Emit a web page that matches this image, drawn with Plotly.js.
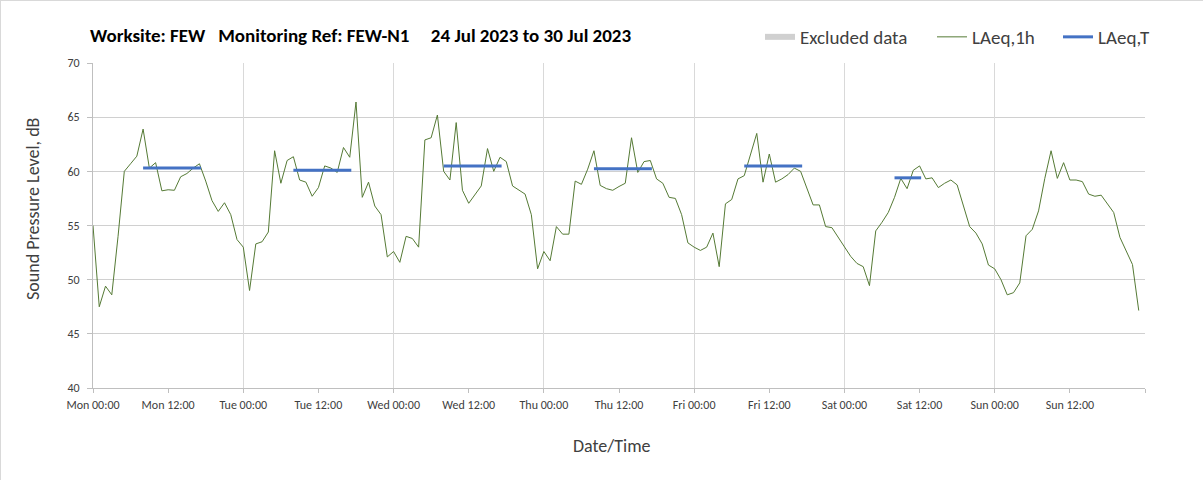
<!DOCTYPE html>
<html>
<head>
<meta charset="utf-8">
<script src="https://cdn.plot.ly/plotly-3.0.1.min.js"></script>
<style>
  html, body { margin: 0; padding: 0; background: #ffffff; }
  #chart { width: 1203px; height: 480px; box-sizing: border-box; border: 1px solid #d9d9d9; }
</style>
</head>
<body>
<div id="chart"></div>
<script>
// ---- Data (hourly LAeq,1h, dB) ----
const dayNames = ['Mon', 'Tue', 'Wed', 'Thu', 'Fri', 'Sat', 'Sun'];
const monLAeq1h = [55.0, 47.5, 49.4, 48.6, 54.0, 60.0, 60.7, 61.4, 63.9, 60.3, 60.8, 58.2, 58.3, 58.25, 59.5, 59.8, 60.3, 60.7, 59.1, 57.3, 56.3, 57.1, 56.0, 53.7];
const tueLAeq1h = [53.0, 49.0, 53.3, 53.5, 54.4, 61.9, 58.9, 61.0, 61.35, 59.2, 59.0, 57.7, 58.5, 60.5, 60.3, 59.9, 62.2, 61.3, 66.4, 57.6, 59.0, 56.8, 56.0, 52.1];
const wedLAeq1h = [52.6, 51.6, 54.0, 53.8, 53.0, 62.9, 63.1, 65.2, 60.0, 59.2, 64.5, 58.25, 57.05, 57.9, 58.65, 62.1, 60.0, 61.3, 60.9, 58.65, 58.3, 57.9, 56.0, 51.0];
const thuLAeq1h = [52.6, 51.75, 54.9, 54.2, 54.2, 59.1, 58.8, 60.2, 61.9, 58.7, 58.4, 58.25, 58.6, 58.9, 63.1, 59.9, 60.9, 61.0, 59.3, 58.9, 57.6, 57.5, 56.0, 53.4];
const friLAeq1h = [53.0, 52.7, 53.0, 54.3, 51.2, 57.0, 57.4, 59.3, 59.6, 61.5, 63.5, 59.0, 61.6, 59.0, 59.3, 59.7, 60.3, 60.0, 58.5, 56.9, 56.9, 54.9, 54.8, 53.9];
const satLAeq1h = [53.0, 52.15, 51.5, 51.2, 49.45, 54.5, 55.3, 56.2, 57.6, 59.35, 58.4, 60.1, 60.5, 59.3, 59.4, 58.5, 58.9, 59.2, 58.75, 56.8, 54.9, 54.3, 53.3, 51.35];
const sunLAeq1h = [51.0, 50.0, 48.6, 48.8, 49.7, 54.05, 54.65, 56.35, 59.35, 61.9, 59.35, 60.8, 59.2, 59.2, 59.05, 57.9, 57.7, 57.8, 57.0, 56.2, 53.9, 52.7, 51.4, 47.15];

// LAeq,T for the working periods
const periodDay = [0, 1, 2, 3, 4, 5];
const periodStart = ['08:00', '08:00', '08:00', '08:00', '08:00', '08:00'];
const periodEnd = ['17:15', '17:15', '17:15', '17:15', '17:15', '12:15'];
const laeqT = [60.3, 60.1, 60.5, 60.25, 60.5, 59.4];

// tick labels every 12 h
const tickLabels = ['Mon 00:00', 'Mon 12:00', 'Tue 00:00', 'Tue 12:00', 'Wed 00:00', 'Wed 12:00',
  'Thu 00:00', 'Thu 12:00', 'Fri 00:00', 'Fri 12:00', 'Sat 00:00', 'Sat 12:00', 'Sun 00:00', 'Sun 12:00', ''];

// ---- Build ----
function pad(n) { return (n < 10 ? '0' : '') + n; }
function stamp(dayIdx, hhmm) { return '2023-07-' + pad(24 + dayIdx) + ' ' + hhmm; }

const allDays = [monLAeq1h, tueLAeq1h, wedLAeq1h, thuLAeq1h, friLAeq1h, satLAeq1h, sunLAeq1h];
const xs = [], ys = [];
allDays.forEach((vals, d) => vals.forEach((v, h) => { xs.push(stamp(d, pad(h) + ':00')); ys.push(v); }));

const bx = [], by = [];
periodDay.forEach((d, i) => {
  bx.push(stamp(d, periodStart[i]), stamp(d, periodEnd[i]), null);
  by.push(laeqT[i], laeqT[i], null);
});

const tickVals = tickLabels.map((t, i) => stamp(Math.floor(i / 2), i % 2 ? '12:00' : '00:00'));
const xRange = [stamp(0, '00:00'), stamp(7, '00:00')];

const FONT = 'Carlito, Calibri, Lato, sans-serif';
const W = 1203, H = 480;

const traces = [
  { type: 'scatter', mode: 'none', x: [null], y: [null], fill: 'toself', fillcolor: '#d0d0d0',
    name: 'Excluded data', showlegend: true, hoverinfo: 'skip', legend: 'legend' },
  { type: 'scatter', mode: 'lines', x: xs, y: ys, name: 'LAeq,1h',
    line: { color: '#557a35', width: 1 }, legend: 'legend2' },
  { type: 'scatter', mode: 'lines', x: bx, y: by, name: 'LAeq,T',
    line: { color: '#4472c4', width: 3 }, connectgaps: false, legend: 'legend3' },
  { type: 'scatter', mode: 'lines', x: xRange, y: [null, null], xaxis: 'x2', showlegend: false, hoverinfo: 'skip' }
];

function legendAt(px) {
  return {
    orientation: 'h', xref: 'container', yref: 'container',
    x: px / W, xanchor: 'left', y: 1 - 36 / H, yanchor: 'middle',
    font: { family: FONT, size: 19, color: '#404040' },
    bgcolor: 'rgba(0,0,0,0)'
  };
}

const layout = {
  width: W, height: H,
  margin: { l: 92, r: 59, t: 62, b: 93 },
  paper_bgcolor: '#ffffff', plot_bgcolor: '#ffffff',
  font: { family: FONT, color: '#404040' },
  title: {
    text: 'Worksite: FEW\u00a0\u00a0\u00a0Monitoring Ref: FEW-N1\u00a0\u00a0\u00a0\u00a0\u00a024 Jul 2023 to 30 Jul 2023',
    font: { family: FONT, size: 19, color: '#000000', weight: 'bold' },
    xref: 'container', x: 89 / W, xanchor: 'left',
    yref: 'container', y: 1 - 34 / H, yanchor: 'middle'
  },
  showlegend: true,
  legend: legendAt(759),
  legend2: legendAt(931),
  legend3: legendAt(1057),
  xaxis: {
    type: 'date', range: xRange,
    tickmode: 'array', tickvals: tickVals, ticktext: tickLabels,
    ticks: 'outside', ticklen: 4, tickcolor: '#bfbfbf',
    showgrid: false, zeroline: false,
    showline: true, linecolor: '#bfbfbf', linewidth: 1,
    tickfont: { family: FONT, size: 12, color: '#404040' },
    ticklabelstandoff: 2,
    automargin: false
  },
  xaxis2: {
    type: 'date', range: xRange, overlaying: 'x', anchor: 'y', side: 'bottom',
    dtick: 86400000, tick0: stamp(0, '00:00'),
    showgrid: true, gridcolor: '#d9d9d9', gridwidth: 1,
    showticklabels: false, ticks: '', showline: false, zeroline: false,
    layer: 'below traces'
  },
  yaxis: {
    range: [40, 70], dtick: 5, tick0: 40,
    ticks: 'outside', ticklen: 5, tickcolor: '#bfbfbf',
    showgrid: true, gridcolor: '#d0d0d0', gridwidth: 1, zeroline: false,
    showline: true, linecolor: '#bfbfbf', linewidth: 1,
    tickfont: { family: FONT, size: 12, color: '#404040' },
    ticklabelstandoff: 5,
    automargin: false
  },
  annotations: [
    { text: 'Date/Time', xref: 'paper', yref: 'paper', x: (611 - 92) / (W - 92 - 59), y: -(445 - 387) / (387 - 62),
      xanchor: 'center', yanchor: 'middle', showarrow: false,
      font: { family: FONT, size: 18, color: '#404040' } },
    { text: 'Sound Pressure Level, dB', xref: 'paper', yref: 'paper', x: -(92 - 32) / (W - 92 - 59), y: (387 - 208) / (387 - 62),
      xanchor: 'center', yanchor: 'middle', textangle: -90, showarrow: false,
      font: { family: FONT, size: 18, color: '#404040' } }
  ]
};

Plotly.newPlot('chart', traces, layout, { displayModeBar: false, staticPlot: true });
</script>
</body>
</html>
